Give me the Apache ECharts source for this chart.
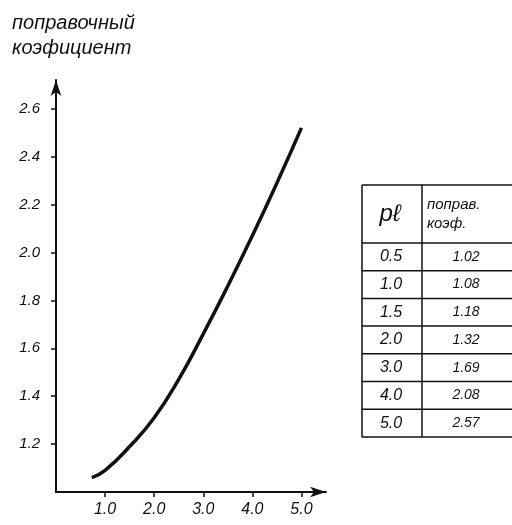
<!DOCTYPE html>
<html>
<head>
<meta charset="utf-8">
<script src="https://cdn.jsdelivr.net/npm/echarts@6/dist/echarts.min.js"></script>
<style>
  html, body { margin: 0; padding: 0; background: #fff; }
  #chart { width: 512px; height: 525px; }
</style>
</head>
<body>
<div id="chart"></div>
<script>
// кривая (pl, поправочный коэффициент)
var curveX = [0.73, 1.0, 1.5, 2.0, 2.5, 3.0, 3.5, 4.0, 4.5, 5.0];
var curveY = [1.06, 1.09, 1.19, 1.31, 1.47, 1.66, 1.86, 2.07, 2.29, 2.52];

// подписи осей
var xTicks = [1, 2, 3, 4, 5];
var yTicks = [1.2, 1.4, 1.6, 1.8, 2.0, 2.2, 2.4, 2.6];

// таблица справа
var tableHead = ['pℓ', 'поправ.\nкоэф.'];
var tablePl = ['0.5', '1.0', '1.5', '2.0', '3.0', '4.0', '5.0'];
var tableK = ['1.02', '1.08', '1.18', '1.32', '1.69', '2.08', '2.57'];

var font = 'Liberation Sans';
var ink = '#111';

var chart = echarts.init(document.getElementById('chart'));

// таблица рисуется графикой
var tLeft = 362, tMid = 422, tRight = 530, tTop = 185, headH = 58, rowH = 27.7;
var table = [];
var lineStyle = { stroke: ink, lineWidth: 1.5 };
var tBottom = tTop + headH + rowH * tablePl.length;
table.push({ type: 'line', shape: { x1: tLeft, y1: tTop, x2: tRight, y2: tTop }, style: lineStyle });
table.push({ type: 'line', shape: { x1: tLeft, y1: tTop, x2: tLeft, y2: tBottom }, style: lineStyle });
table.push({ type: 'line', shape: { x1: tMid, y1: tTop, x2: tMid, y2: tBottom }, style: lineStyle });
for (var i = 0; i <= tablePl.length; i++) {
  var yy = tTop + headH + rowH * i;
  table.push({ type: 'line', shape: { x1: tLeft, y1: yy, x2: tRight, y2: yy }, style: lineStyle });
}
table.push({ type: 'text', x: 390, y: tTop + headH / 2,
  style: { text: tableHead[0], font: 'italic 24px ' + font, fill: ink, align: 'center', verticalAlign: 'middle' } });
table.push({ type: 'text', x: 427, y: tTop + headH / 2,
  style: { text: tableHead[1], font: 'italic 15px ' + font, lineHeight: 19, fill: ink, align: 'left', verticalAlign: 'middle' } });
tablePl.forEach(function (v, i) {
  var cy = tTop + headH + rowH * i + rowH / 2;
  table.push({ type: 'text', x: 391, y: cy,
    style: { text: v, font: 'italic 16px ' + font, fill: ink, align: 'center', verticalAlign: 'middle' } });
  table.push({ type: 'text', x: 466, y: cy,
    style: { text: tableK[i], font: 'italic 14px ' + font, fill: ink, align: 'center', verticalAlign: 'middle' } });
});

var option = {
  backgroundColor: '#fff',
  animation: false,
  title: {
    text: 'поправочный\nкоэфициент',
    left: 7,
    top: 6,
    textStyle: { fontFamily: font, fontStyle: 'italic', fontWeight: 'normal', fontSize: 20, lineHeight: 25, color: ink }
  },
  grid: { left: 56, top: 80, width: 270, height: 412 },
  xAxis: {
    type: 'value',
    min: 0,
    max: 5.5,
    splitLine: { show: false },
    axisLine: { lineStyle: { color: ink, width: 2 }, symbol: ['none', 'arrow'], symbolSize: [8, 16] },
    axisTick: { customValues: xTicks, length: 5, lineStyle: { color: ink, width: 1.5 } },
    axisLabel: {
      customValues: xTicks,
      margin: 10,
      color: ink,
      fontFamily: font,
      fontStyle: 'italic',
      fontSize: 16,
      formatter: function (v) { return v.toFixed(1); }
    }
  },
  yAxis: {
    type: 'value',
    min: 1.0,
    max: 2.72,
    splitLine: { show: false },
    axisLine: { lineStyle: { color: ink, width: 2 }, symbol: ['none', 'arrow'], symbolSize: [8, 16] },
    axisTick: { customValues: yTicks, length: 5, lineStyle: { color: ink, width: 1.5 } },
    axisLabel: {
      customValues: yTicks,
      margin: 16,
      color: ink,
      fontFamily: font,
      fontStyle: 'italic',
      fontSize: 15,
      formatter: function (v) { return v.toFixed(1); }
    }
  },
  series: [{
    type: 'line',
    smooth: 0.5,
    symbol: 'none',
    data: curveX.map(function (x, i) { return [x, curveY[i]]; }),
    lineStyle: { color: ink, width: 3.5 }
  }],
  graphic: table
};

option && chart.setOption(option);
</script>
</body>
</html>
